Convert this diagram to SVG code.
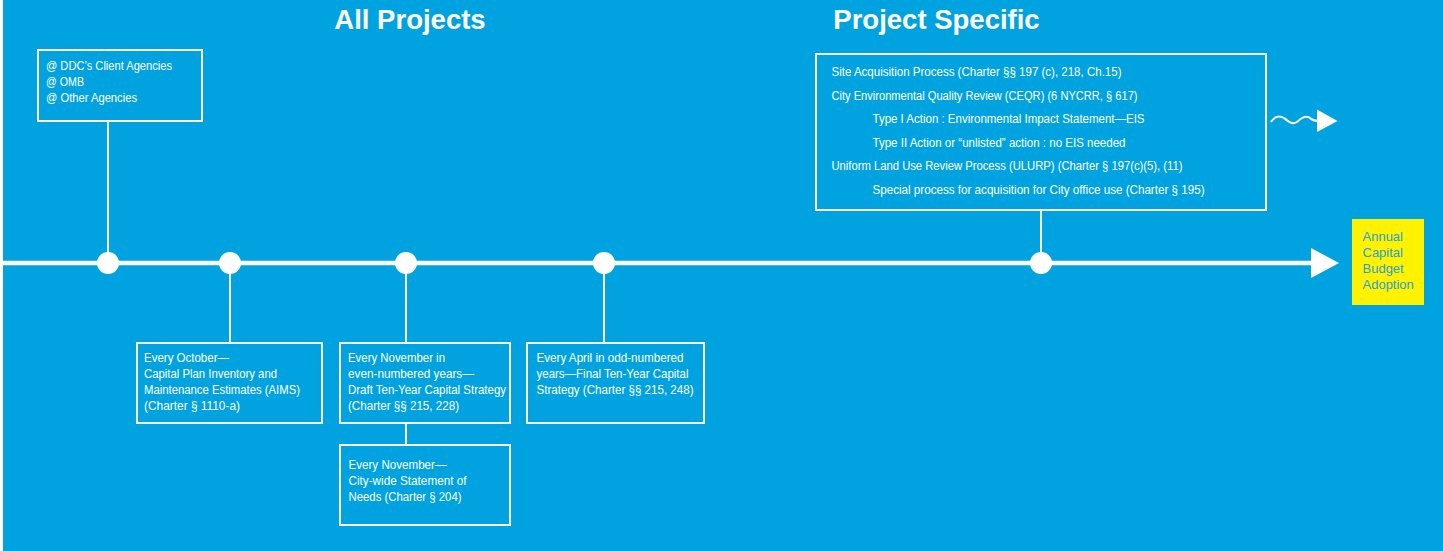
<svg xmlns="http://www.w3.org/2000/svg" width="1443" height="551" viewBox="0 0 1443 551">
<style>
.bg{fill:#00a3e0}
.box{fill:none;stroke:#fff;stroke-width:2}
.t{font-family:"Liberation Sans",Arial,sans-serif;font-size:13px;fill:#fff}
.h{font-family:"Liberation Sans",Arial,sans-serif;font-size:27.5px;font-weight:bold;fill:#fff}
.ln{stroke:#fff;stroke-width:2;fill:none}
.dot{fill:#fff}
.y{font-family:"Liberation Sans",Arial,sans-serif;font-size:13px;fill:#2a9fd0}
</style>
<rect x="0" y="0" width="1443" height="551" fill="#fff"/>
<rect class="bg" x="3" y="0" width="1440" height="551"/>
<text class="h" x="410" y="29" text-anchor="middle">All Projects</text>
<text class="h" x="936.5" y="29" text-anchor="middle">Project Specific</text>
<g id="connectors">
<line x1="3" y1="263" x2="1314" y2="263" stroke="#fff" stroke-width="4.5"/>
<polygon points="1311,248 1339,263 1311,278" fill="#fff"/>
<line class="ln" x1="108" y1="121" x2="108" y2="263"/>
<line class="ln" x1="230" y1="263" x2="230" y2="343"/>
<line class="ln" x1="406" y1="263" x2="406" y2="343"/>
<line class="ln" x1="406" y1="423" x2="406" y2="445"/>
<line class="ln" x1="604" y1="263" x2="604" y2="343"/>
<line class="ln" x1="1041" y1="210" x2="1041" y2="263"/>
<path class="ln" d="M1271,122 C1275,116 1279,115 1284,118 C1289,122 1292,125 1297,122 C1302,117 1306,115 1310,118 C1313,121 1315,121 1318,121" stroke-width="2.2"/>
<polygon points="1317,109.5 1337.5,121 1317,132" fill="#fff"/>
<circle class="dot" cx="108" cy="263" r="11"/>
<circle class="dot" cx="230" cy="263" r="11"/>
<circle class="dot" cx="406" cy="263" r="11"/>
<circle class="dot" cx="604" cy="263" r="11"/>
<circle class="dot" cx="1041" cy="263" r="11"/>
</g>
<g id="agencies">
<rect class="box" x="38" y="50" width="164" height="71"/>
<text class="t" x="46" y="70" textLength="126" lengthAdjust="spacingAndGlyphs">@ DDC’s Client Agencies</text>
<text class="t" x="46" y="86" textLength="38" lengthAdjust="spacingAndGlyphs">@ OMB</text>
<text class="t" x="46" y="102" textLength="91" lengthAdjust="spacingAndGlyphs">@ Other Agencies</text>
</g>
<g id="october">
<rect class="box" x="137" y="343" width="185" height="80"/>
<text class="t" x="144" y="362" textLength="85" lengthAdjust="spacingAndGlyphs">Every October—</text>
<text class="t" x="144" y="378" textLength="133" lengthAdjust="spacingAndGlyphs">Capital Plan Inventory and</text>
<text class="t" x="144" y="394" textLength="156" lengthAdjust="spacingAndGlyphs">Maintenance Estimates (AIMS)</text>
<text class="t" x="144" y="410" textLength="96" lengthAdjust="spacingAndGlyphs">(Charter § 1110-a)</text>
</g>
<g id="november-even">
<rect class="box" x="340" y="343" width="170" height="80"/>
<text class="t" x="348" y="362" textLength="97" lengthAdjust="spacingAndGlyphs">Every November in</text>
<text class="t" x="348" y="378" textLength="126" lengthAdjust="spacingAndGlyphs">even-numbered years—</text>
<text class="t" x="348" y="394" textLength="158" lengthAdjust="spacingAndGlyphs">Draft Ten-Year Capital Strategy</text>
<text class="t" x="348" y="410" textLength="111" lengthAdjust="spacingAndGlyphs">(Charter §§ 215, 228)</text>
</g>
<g id="november">
<rect class="box" x="340" y="445" width="170" height="80"/>
<text class="t" x="348.5" y="469" textLength="98" lengthAdjust="spacingAndGlyphs">Every November—</text>
<text class="t" x="348.5" y="485" textLength="118" lengthAdjust="spacingAndGlyphs">City-wide Statement of</text>
<text class="t" x="348.5" y="501" textLength="113" lengthAdjust="spacingAndGlyphs">Needs (Charter § 204)</text>
</g>
<g id="april">
<rect class="box" x="527" y="343" width="177" height="80"/>
<text class="t" x="536.5" y="362" textLength="147" lengthAdjust="spacingAndGlyphs">Every April in odd-numbered</text>
<text class="t" x="536.5" y="378" textLength="152" lengthAdjust="spacingAndGlyphs">years—Final Ten-Year Capital</text>
<text class="t" x="536.5" y="394" textLength="157" lengthAdjust="spacingAndGlyphs">Strategy (Charter §§ 215, 248)</text>
</g>
<g id="project-specific">
<rect class="box" x="816" y="54" width="450" height="156"/>
<text class="t" x="831.5" y="76" textLength="290" lengthAdjust="spacingAndGlyphs">Site Acquisition Process (Charter §§ 197 (c), 218, Ch.15)</text>
<text class="t" x="831.5" y="99.5" textLength="306" lengthAdjust="spacingAndGlyphs">City Environmental Quality Review (CEQR) (6 NYCRR, § 617)</text>
<text class="t" x="872.5" y="122.5" textLength="272" lengthAdjust="spacingAndGlyphs">Type I Action : Environmental Impact Statement—EIS</text>
<text class="t" x="872.5" y="146.5" textLength="253" lengthAdjust="spacingAndGlyphs">Type II Action or “unlisted” action : no EIS needed</text>
<text class="t" x="831.5" y="170" textLength="351" lengthAdjust="spacingAndGlyphs">Uniform Land Use Review Process (ULURP) (Charter § 197(c)(5), (11)</text>
<text class="t" x="872.5" y="193.5" textLength="332" lengthAdjust="spacingAndGlyphs">Special process for acquisition for City office use (Charter § 195)</text>
</g>
<g id="adoption">
<rect x="1352" y="219" width="72" height="86" fill="#fff200"/>
<text class="y" x="1362.5" y="241">Annual</text>
<text class="y" x="1362.5" y="257">Capital</text>
<text class="y" x="1362.5" y="273">Budget</text>
<text class="y" x="1362.5" y="289">Adoption</text>
</g>
</svg>
